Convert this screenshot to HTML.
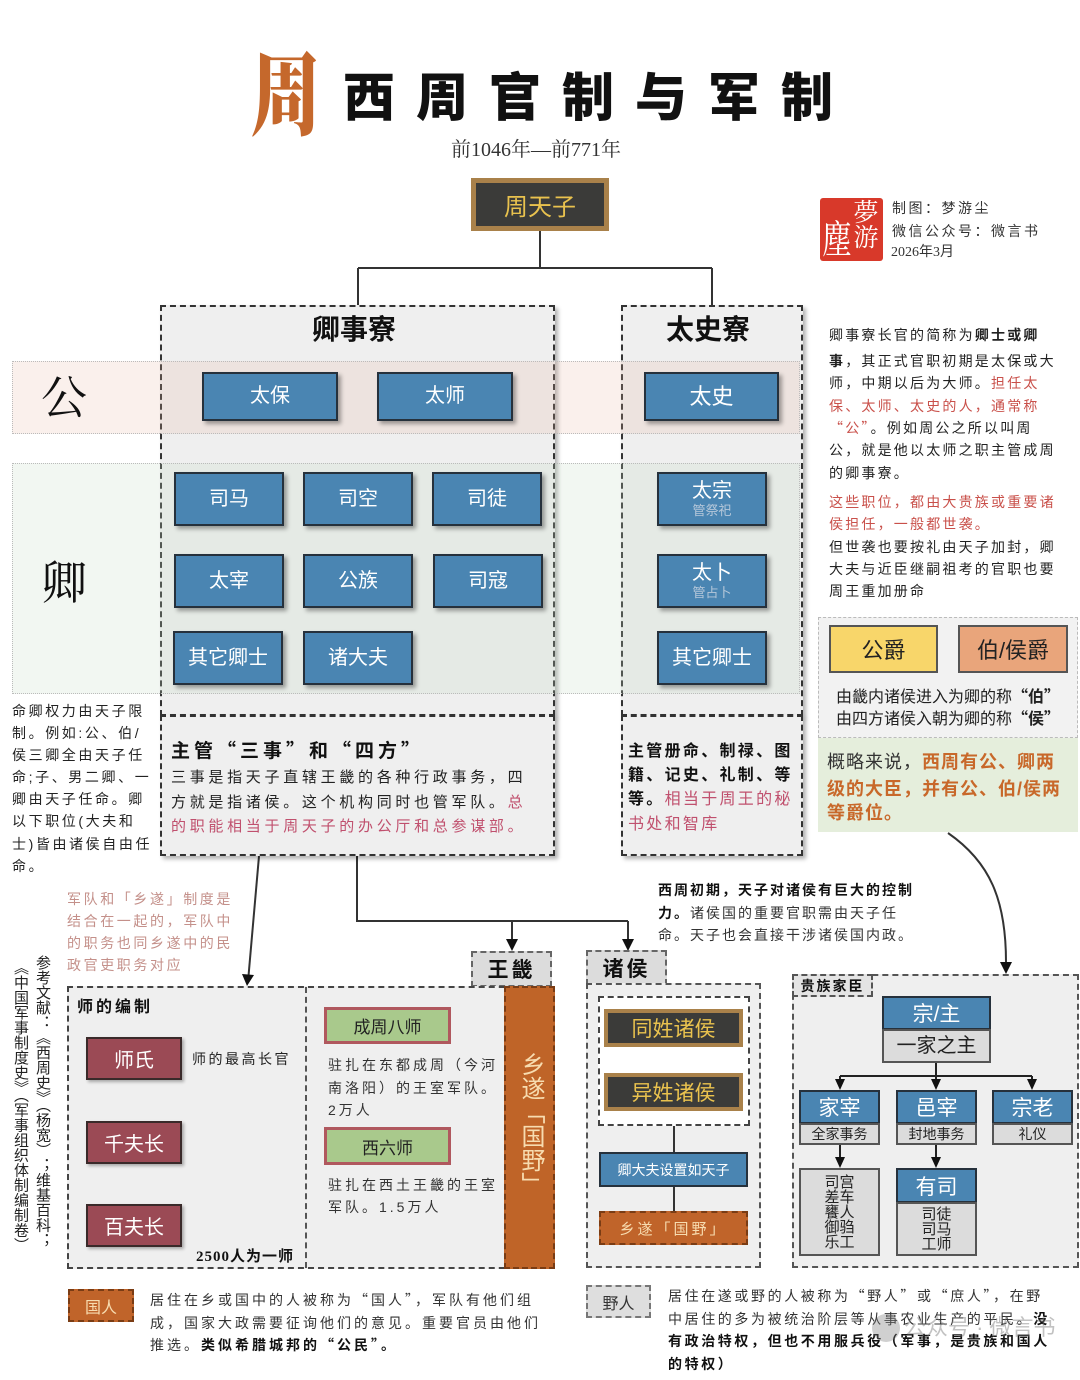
<!DOCTYPE html>
<html><head><meta charset="utf-8">
<style>
*{box-sizing:border-box}
body{margin:0;width:1080px;height:1380px;position:relative;background:#fff;font-family:"Liberation Sans","Noto Sans CJK SC",sans-serif;overflow:hidden;color:#222}
.a{position:absolute;white-space:nowrap}
.q{font-family:"Noto Sans CJK SC",sans-serif}
.blue{position:absolute;background:#4a85b2;border:2px solid #26313c;box-shadow:3px 3px 4px rgba(0,0,0,.35);color:#fff;display:flex;flex-direction:column;align-items:center;justify-content:center;font-size:20px;line-height:1.15}
.blue small{font-size:13px;color:#b6c8da;line-height:1.2}
.dash{position:absolute;border:2px dashed #333;background:#efefef}
.sh{box-shadow:3px 3px 4px rgba(0,0,0,.3)}
.t14{font-size:14px;letter-spacing:2.5px;line-height:16px}
.red{color:#c9504a}
.pink{color:#c0506e}
.b{font-weight:bold}
.mar{position:absolute;background:#9b4a55;border:2px solid #3a2a2a;color:#fff;font-size:20px;display:flex;align-items:center;justify-content:center;box-shadow:2px 2px 3px rgba(0,0,0,.3)}
.grn{position:absolute;background:#a9c98c;border:3px solid #b0585e;color:#222;font-size:17px;display:flex;align-items:center;justify-content:center}
.gold{position:absolute;background:#3b3b39;border:4px solid #a9814a;color:#e9c24e;font-size:20px;display:flex;align-items:center;justify-content:center}
.bh{position:absolute;background:#4a85b2;border:2px solid #26313c;color:#fff;font-size:21px;display:flex;align-items:center;justify-content:center}
.gy{position:absolute;background:#dcdcdc;border:2px solid #555;color:#222;font-size:15px;display:flex;flex-direction:column;align-items:center;justify-content:center;line-height:15px}
</style></head><body>

<!-- Title -->
<div class="a" style="left:250px;top:34px;font-family:'Noto Serif CJK SC',serif;font-weight:900;font-size:92px;line-height:110px;color:#c5682c;transform:scaleX(0.78);transform-origin:left top">周</div>
<div class="a" style="left:343px;top:64px;font-family:'Noto Sans CJK SC',sans-serif;font-weight:900;font-size:52px;line-height:60px;letter-spacing:21px;color:#111">西周官制与军制</div>
<div class="a" style="left:451px;top:137px;font-family:'Liberation Serif','Noto Serif CJK SC',serif;font-size:20px;line-height:26px;color:#333">前1046年—前771年</div>

<!-- 周天子 -->
<div class="gold" style="left:471px;top:178px;width:138px;height:53px;font-size:24px;border-width:5px">周天子</div>

<!-- credits -->
<div class="a" style="left:820px;top:198px;width:63px;height:63px;background:#d8392a;border-radius:3px"></div>
<div class="a" style="left:852px;top:199px;color:#fff;font-size:25px;line-height:28px;writing-mode:vertical-rl;font-family:'Noto Serif CJK SC',serif">夢游</div>
<div class="a" style="left:822px;top:204px;color:#fff;font-size:30px;line-height:50px;font-family:'Noto Serif CJK SC',serif;transform:scaleY(1.3);transform-origin:left top">塵</div>
<div class="a t14" style="left:892px;top:200px;color:#333">制图：梦游尘</div>
<div class="a t14" style="left:892px;top:223px;color:#333">微信公众号：微言书</div>
<div class="a" style="left:891px;top:244px;font-size:14px;line-height:18px;color:#333;font-family:'Liberation Serif','Noto Sans CJK SC',serif">2026年3月</div>

<!-- connectors svg -->
<svg class="a" style="left:0;top:0" width="1080" height="1380">
<g stroke="#333" stroke-width="2" fill="none">
<path d="M540 231V268M358 268H712M358 268V305M712 268V305"/>
<path d="M259 856L248.5 976"/>
<path d="M357 856V921H628M512 921V940M628 921V940"/>
<path d="M948 833C990 862 1006 900 1006 962"/>
<path d="M134 1080V1110M134 1164V1193"/>
</g>
<g fill="#111">
<polygon points="242,974 254,975 247,986"/>
<polygon points="506,939 518,939 512,951"/>
<polygon points="622,939 634,939 628,951"/>
<polygon points="1000,962 1012,962 1006,974"/>
<polygon points="128,1109 140,1109 134,1121"/>
<polygon points="128,1192 140,1192 134,1204"/>
</g>
</svg>

<!-- 卿事寮 / 太史寮 boxes -->
<div class="dash sh" style="left:160px;top:305px;width:395px;height:411px"></div>
<div class="dash sh" style="left:160px;top:715px;width:395px;height:141px"></div>
<div class="dash sh" style="left:621px;top:305px;width:182px;height:411px"></div>
<div class="dash sh" style="left:621px;top:715px;width:182px;height:141px"></div>

<!-- bands -->
<div class="a" style="left:12px;top:361px;width:788px;height:73px;background:rgba(232,180,160,0.2);border:1px dotted #bbb"></div>
<div class="a" style="left:12px;top:463px;width:788px;height:231px;background:rgba(195,220,195,0.22);border:1px dotted #bbb"></div>
<div class="a" style="left:41px;top:368px;font-family:'Noto Serif CJK SC',serif;font-size:46px;line-height:54px;color:#111">公</div>
<div class="a" style="left:41px;top:553px;font-family:'Noto Serif CJK SC',serif;font-size:46px;line-height:54px;color:#111">卿</div>

<div class="a b" style="left:312px;top:312px;font-size:28px;line-height:36px;color:#111">卿事寮</div>
<div class="a b" style="left:666px;top:312px;font-size:28px;line-height:36px;color:#111">太史寮</div>

<div class="blue" style="left:202px;top:372px;width:136px;height:49px">太保</div>
<div class="blue" style="left:377px;top:372px;width:136px;height:49px">太师</div>
<div class="blue" style="left:644px;top:372px;width:135px;height:49px;font-size:22px">太史</div>

<div class="blue" style="left:174px;top:472px;width:110px;height:54px">司马</div>
<div class="blue" style="left:303px;top:472px;width:110px;height:54px">司空</div>
<div class="blue" style="left:432px;top:472px;width:110px;height:54px">司徒</div>
<div class="blue" style="left:174px;top:554px;width:110px;height:54px">太宰</div>
<div class="blue" style="left:303px;top:554px;width:110px;height:54px">公族</div>
<div class="blue" style="left:433px;top:554px;width:110px;height:54px">司寇</div>
<div class="blue" style="left:173px;top:631px;width:110px;height:54px">其它卿士</div>
<div class="blue" style="left:303px;top:631px;width:110px;height:54px">诸大夫</div>
<div class="blue" style="left:657px;top:472px;width:110px;height:54px">太宗<small>管祭祀</small></div>
<div class="blue" style="left:657px;top:554px;width:110px;height:54px">太卜<small>管占卜</small></div>
<div class="blue" style="left:657px;top:631px;width:110px;height:54px">其它卿士</div>

<!-- 卿事寮 lower text -->
<div class="a b q" style="left:171px;top:737px;font-size:19px;line-height:26px;letter-spacing:4px;color:#111">主管“三事”和“四方”</div>
<div class="a" style="left:171px;top:768px;font-size:15px;line-height:20px;letter-spacing:3.7px;color:#222">三事是指天子直辖王畿的各种行政事务，四</div>
<div class="a" style="left:171px;top:793px;font-size:15px;line-height:20px;letter-spacing:3.7px;color:#222">方就是指诸侯。这个机构同时也管军队。<span class="pink">总</span></div>
<div class="a pink" style="left:171px;top:817px;font-size:15px;line-height:20px;letter-spacing:3.7px">的职能相当于周天子的办公厅和总参谋部。</div>

<!-- 太史寮 lower text -->
<div class="a b" style="left:628px;top:742px;font-size:16px;line-height:20px;letter-spacing:2.3px;color:#111">主管册命、制禄、图</div>
<div class="a b" style="left:628px;top:766px;font-size:16px;line-height:20px;letter-spacing:2.3px;color:#111">籍、记史、礼制、等</div>
<div class="a" style="left:628px;top:790px;font-size:16px;line-height:20px;letter-spacing:2.3px;color:#111"><b>等。</b><span class="pink">相当于周王的秘</span></div>
<div class="a pink" style="left:628px;top:815px;font-size:16px;line-height:20px;letter-spacing:2.3px">书处和智库</div>

<!-- left text -->
<div class="a" style="left:12px;top:700px;font-size:14px;line-height:22.1px;letter-spacing:2.6px;color:#222;white-space:normal;width:150px">命卿权力由天子限<br>制。例如:公、伯/<br>侯三卿全由天子任<br>命;子、男二卿、一<br>卿由天子任命。卿<br>以下职位(大夫和<br>士)皆由诸侯自由任<br>命。</div>

<!-- right text -->
<div class="a t14" style="left:829px;top:327px;letter-spacing:2.2px">卿事寮长官的简称为<b>卿士或卿</b></div>
<div class="a t14" style="left:829px;top:353px;letter-spacing:2.2px"><b>事</b>，其正式官职初期是太保或大</div>
<div class="a t14" style="left:829px;top:375px;letter-spacing:2.2px">师，中期以后为大师。<span class="red">担任太</span></div>
<div class="a t14 red" style="left:829px;top:398px;letter-spacing:2.2px">保、太师、太史的人，通常称</div>
<div class="a t14" style="left:829px;top:420px;letter-spacing:2.2px"><span class="red q">“公”</span>。例如周公之所以叫周</div>
<div class="a t14" style="left:829px;top:442px;letter-spacing:2.2px">公，就是他以太师之职主管成周</div>
<div class="a t14" style="left:829px;top:465px;letter-spacing:2.2px">的卿事寮。</div>
<div class="a t14 red" style="left:829px;top:494px;letter-spacing:2.2px">这些职位，都由大贵族或重要诸</div>
<div class="a t14 red" style="left:829px;top:516px;letter-spacing:2.2px">侯担任，一般都世袭。</div>
<div class="a t14" style="left:829px;top:539px;letter-spacing:2.2px">但世袭也要按礼由天子加封，卿</div>
<div class="a t14" style="left:829px;top:561px;letter-spacing:2.2px">大夫与近臣继嗣祖考的官职也要</div>
<div class="a t14" style="left:829px;top:583px;letter-spacing:2.2px">周王重加册命</div>

<!-- 公爵 group -->
<div class="a" style="left:818px;top:617px;width:260px;height:121px;background:#f2f2f2;border:1px dashed #bbb"></div>
<div class="a" style="left:829px;top:625px;width:109px;height:48px;background:#f8d66a;border:2px solid #555;display:flex;align-items:center;justify-content:center;font-size:22px;color:#222">公爵</div>
<div class="a" style="left:958px;top:625px;width:110px;height:48px;background:#e9a57b;border:2px solid #555;display:flex;align-items:center;justify-content:center;font-size:22px;color:#222">伯/侯爵</div>
<div class="a" style="left:836px;top:685px;font-size:16px;line-height:20px;color:#222">由畿内诸侯进入为卿的称<b class="q">“伯”</b></div>
<div class="a" style="left:836px;top:707px;font-size:16px;line-height:20px;color:#222">由四方诸侯入朝为卿的称<b class="q">“侯”</b></div>
<div class="a" style="left:818px;top:738px;width:260px;height:94px;background:#e5eedc"></div>
<div class="a" style="left:827px;top:750px;font-size:18px;line-height:24px;letter-spacing:1px;color:#333">概略来说，<b style="color:#c8682a">西周有公、卿两</b></div>
<div class="a b" style="left:827px;top:777px;font-size:18px;line-height:24px;letter-spacing:1px;color:#c8682a">级的大臣，并有公、伯/侯两</div>
<div class="a b" style="left:827px;top:801px;font-size:18px;line-height:24px;letter-spacing:1px;color:#c8682a">等爵位。</div>

<!-- 西周初期 text -->
<div class="a t14 b" style="left:658px;top:882px;letter-spacing:2px;color:#111">西周初期，天子对诸侯有巨大的控制</div>
<div class="a t14" style="left:658px;top:905px;letter-spacing:2px;color:#333"><b style="color:#111">力。</b>诸侯国的重要官职需由天子任</div>
<div class="a t14" style="left:658px;top:927px;letter-spacing:2px;color:#333">命。天子也会直接干涉诸侯国内政。</div>

<!-- pink text -->
<div class="a" style="left:67px;top:888px;font-size:14px;line-height:22px;letter-spacing:2.6px;color:#c4908a">军队和「乡遂」制度是<br>结合在一起的，军队中<br>的职务也同乡遂中的民<br>政官吏职务对应</div>

<!-- references vertical -->
<div class="a" style="left:33px;top:955px;writing-mode:vertical-rl;font-size:15px;line-height:18px;color:#222">参考文献：《西周史》（杨宽）；维基百科；</div>
<div class="a" style="left:11px;top:960px;writing-mode:vertical-rl;font-size:15px;line-height:18px;color:#222">《中国军事制度史》（军事组织体制编制卷）</div>

<!-- 王畿 / military -->
<div class="a" style="left:471px;top:951px;width:81px;height:36px;background:#dcdcdc;border:2px dashed #666;display:flex;align-items:center;justify-content:center;font-size:21px;font-weight:bold;letter-spacing:3px;color:#111">王畿</div>
<div class="a" style="left:67px;top:986px;width:488px;height:283px;background:#efefef;border:2px dashed #444"></div>
<div class="a" style="left:305px;top:987px;width:0;height:281px;border-left:2px dashed #555"></div>
<div class="a" style="left:504px;top:986px;width:51px;height:283px;background:#bf6428;border:2px dashed #7a3c14"></div>
<div class="a" style="left:516px;top:1052px;writing-mode:vertical-rl;font-size:24px;line-height:28px;color:#f7dcb0">乡遂「国野」</div>

<div class="a b" style="left:77px;top:998px;font-size:16px;line-height:20px;letter-spacing:3px;color:#111">师的编制</div>
<div class="mar" style="left:86px;top:1037px;width:96px;height:43px">师氏</div>
<div class="mar" style="left:86px;top:1121px;width:96px;height:43px">千夫长</div>
<div class="mar" style="left:86px;top:1204px;width:96px;height:43px">百夫长</div>
<div class="a t14" style="left:192px;top:1051px;letter-spacing:2.5px">师的最高长官</div>
<div class="a b" style="left:196px;top:1248px;font-size:15px;line-height:18px;letter-spacing:1px;color:#111;font-family:'Liberation Serif','Noto Sans CJK SC',serif">2500人为一师</div>

<div class="grn" style="left:324px;top:1007px;width:127px;height:37px">成周八师</div>
<div class="a t14" style="left:328px;top:1054px;letter-spacing:3px;line-height:22.5px;color:#333">驻扎在东都成周（今河<br>南洛阳）的王室军队。<br>2万人</div>
<div class="grn" style="left:324px;top:1127px;width:127px;height:38px">西六师</div>
<div class="a t14" style="left:328px;top:1174px;letter-spacing:3px;line-height:22px;color:#333">驻扎在西土王畿的王室<br>军队。1.5万人</div>

<!-- 诸侯 -->
<div class="a" style="left:586px;top:950px;width:81px;height:35px;background:#dcdcdc;border:2px dashed #666;display:flex;align-items:center;justify-content:center;font-size:21px;font-weight:bold;letter-spacing:3px;color:#111">诸侯</div>
<div class="a" style="left:586px;top:983px;width:175px;height:285px;background:#efefef;border:2px dashed #555"></div>
<div class="a" style="left:598px;top:996px;width:152px;height:130px;background:#fff;border:2px dashed #444"></div>
<div class="gold" style="left:604px;top:1009px;width:139px;height:38px;font-size:21px">同姓诸侯</div>
<div class="gold" style="left:604px;top:1073px;width:139px;height:38px;font-size:21px">异姓诸侯</div>
<div class="a" style="left:599px;top:1152px;width:149px;height:35px;background:#4a85b2;border:2px solid #26313c;color:#fff;font-size:14px;display:flex;align-items:center;justify-content:center">卿大夫设置如天子</div>
<div class="a" style="left:599px;top:1211px;width:149px;height:34px;background:#c0642a;border:2px dashed #7a3c14;color:#f7dcb0;font-size:15px;letter-spacing:3px;display:flex;align-items:center;justify-content:center">乡遂「国野」</div>
<svg class="a" style="left:0;top:0" width="1080" height="1380"><path d="M674 1126V1152M674 1187V1211" stroke="#333" stroke-width="2"/></svg>

<!-- 贵族家臣 -->
<div class="a" style="left:792px;top:974px;width:287px;height:294px;background:#efefef;border:2px dashed #555"></div>
<div class="a" style="left:792px;top:974px;width:81px;height:23px;background:#e4e4e4;border:2px dashed #555;font-size:14px;font-weight:bold;letter-spacing:2px;display:flex;align-items:center;justify-content:center;color:#111">贵族家臣</div>
<div class="bh" style="left:882px;top:996px;width:109px;height:34px">宗/主</div>
<div class="gy" style="left:882px;top:1029px;width:109px;height:34px;font-size:20px">一家之主</div>
<div class="bh" style="left:799px;top:1090px;width:81px;height:34px">家宰</div>
<div class="gy" style="left:799px;top:1123px;width:81px;height:22px;font-size:14px">全家事务</div>
<div class="bh" style="left:896px;top:1090px;width:81px;height:34px">邑宰</div>
<div class="gy" style="left:896px;top:1123px;width:81px;height:22px;font-size:14px">封地事务</div>
<div class="bh" style="left:992px;top:1090px;width:81px;height:34px">宗老</div>
<div class="gy" style="left:992px;top:1123px;width:81px;height:22px;font-size:14px">礼仪</div>
<div class="gy" style="left:799px;top:1168px;width:81px;height:88px">司宫<br>差车<br>饔人<br>御驺<br>乐工</div>
<div class="bh" style="left:896px;top:1168px;width:81px;height:35px">有司</div>
<div class="gy" style="left:896px;top:1202px;width:81px;height:54px">司徒<br>司马<br>工师</div>
<svg class="a" style="left:0;top:0" width="1080" height="1380">
<g stroke="#222" stroke-width="2" fill="none"><path d="M936 1063V1076M840 1076H1032M840 1076V1080M1032 1076V1080M936 1076V1080M840 1145V1158M936 1145V1158"/></g>
<g fill="#111"><polygon points="835,1079 845,1079 840,1090"/><polygon points="931,1079 941,1079 936,1090"/><polygon points="1027,1079 1037,1079 1032,1090"/><polygon points="835,1157 845,1157 840,1168"/><polygon points="931,1157 941,1157 936,1168"/></g>
</svg>

<!-- bottom legends -->
<div class="a" style="left:68px;top:1289px;width:66px;height:33px;background:#c0642a;border:2px dashed #7a3c14;color:#f7dcb0;font-size:16px;display:flex;align-items:center;justify-content:center">国人</div>
<div class="a t14" style="left:150px;top:1289px;letter-spacing:3px;line-height:22.5px;color:#333">居住在乡或国中的人被称为<span class="q">“国人”</span>，军队有他们组<br>成，国家大政需要征询他们的意见。重要官员由他们<br>推选。<b style="color:#111">类似希腊城邦的<span class="q">“公民”</span>。</b></div>
<div class="a" style="left:586px;top:1285px;width:65px;height:33px;background:#dedede;border:2px dashed #777;color:#333;font-size:16px;display:flex;align-items:center;justify-content:center">野人</div>
<div class="a t14" style="left:668px;top:1285px;letter-spacing:2.6px;line-height:22.7px;color:#333">居住在遂或野的人被称为<span class="q">“野人”</span>或<span class="q">“庶人”</span>，在野<br>中居住的多为被统治阶层等从事农业生产的平民。<b style="color:#111">没</b><br><b style="color:#111">有政治特权，但也不用服兵役（军事，是贵族和国人</b><br><b style="color:#111">的特权）</b></div>

<!-- watermark -->
<div class="a" style="left:872px;top:1314px;width:28px;height:28px;border-radius:50%;background:rgba(120,120,120,0.35)"></div>
<div class="a" style="left:904px;top:1312px;font-size:22px;line-height:32px;color:rgba(120,120,120,0.45)">公众号 · 微言书</div>

</body></html>
